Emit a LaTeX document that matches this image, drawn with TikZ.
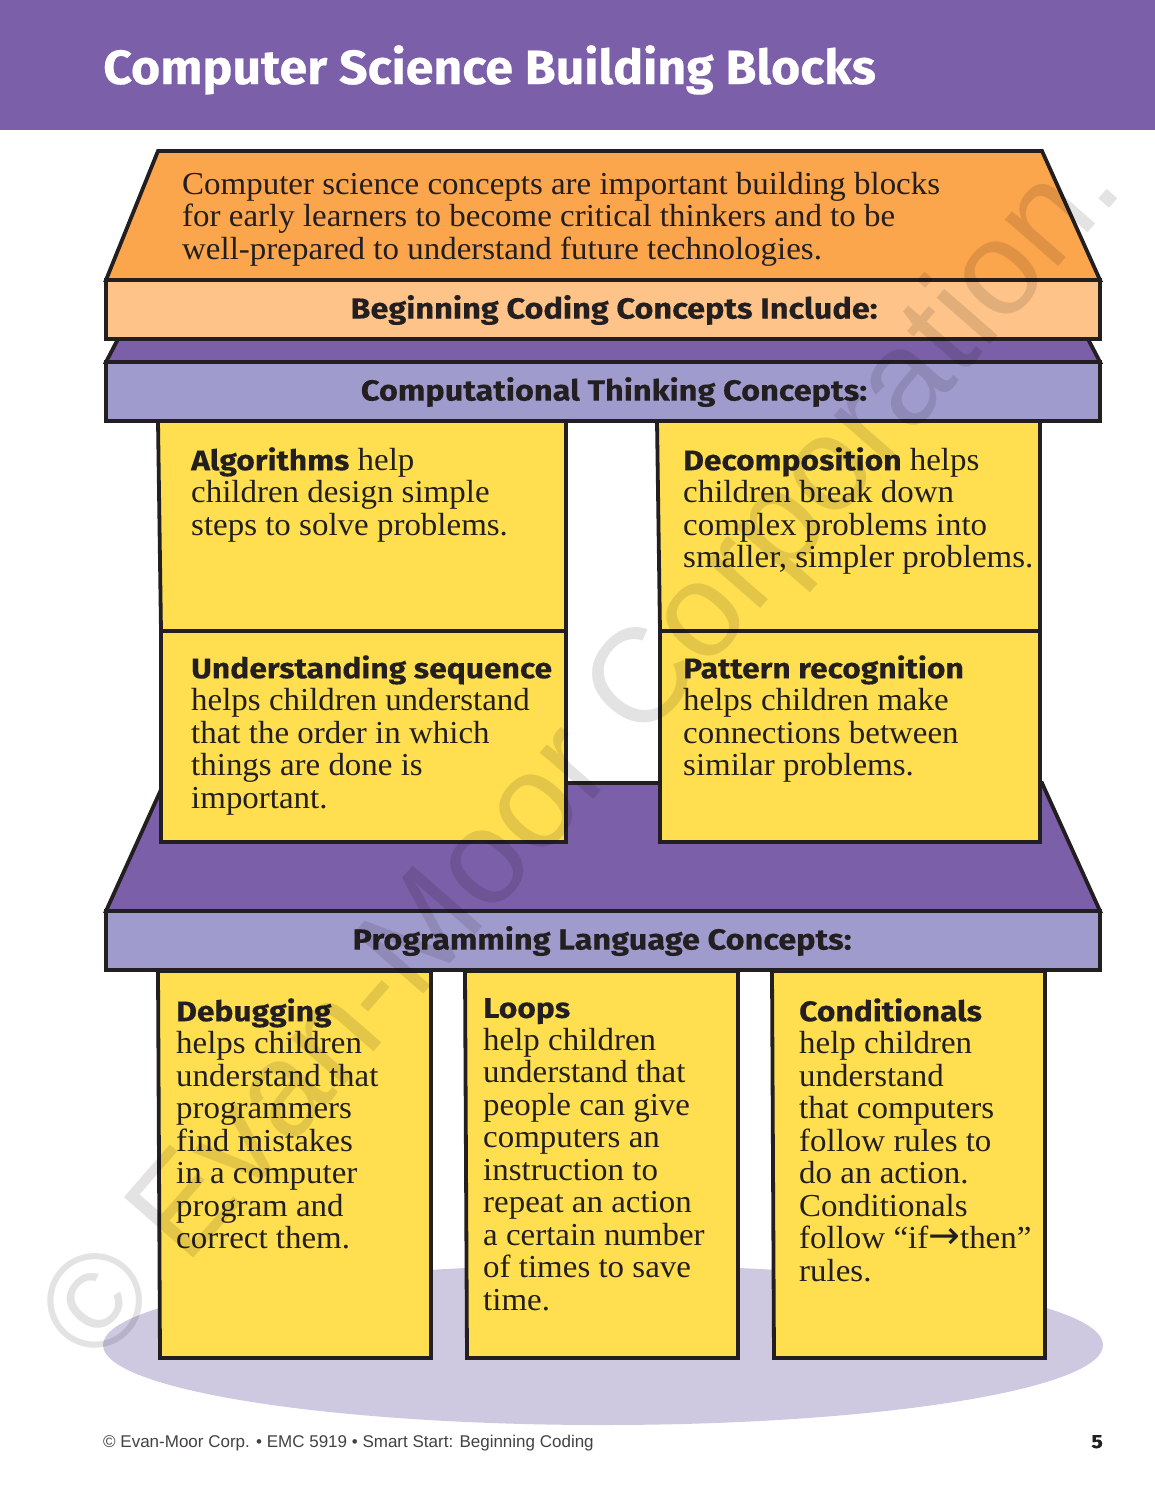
\documentclass[tikz,border=0pt]{standalone}
\usepackage{fontspec}
\setmainfont{Liberation Serif}[FakeStretch=1.03]
\newfontfamily\headf{Fira Sans}[UprightFont=* Bold,FakeStretch=1.12,FakeBold=0.3]
\newfontfamily\titlef{Fira Sans}[UprightFont=* Bold,FakeStretch=1.043,FakeBold=0.4]
\newfontfamily\footf{Liberation Sans}
\newfontfamily\arrf{DejaVu Sans}
\newfontfamily\wmf{Liberation Sans}
\definecolor{purp}{HTML}{7B5FA8}
\definecolor{lav}{HTML}{A09BCD}
\definecolor{org}{HTML}{FBA54D}
\definecolor{peach}{HTML}{FDC388}
\definecolor{yel}{HTML}{FFDF50}
\definecolor{shadow}{HTML}{CFC8E1}
\definecolor{ink}{HTML}{231F20}
\tikzset{
  part/.style={draw=ink,line width=3.8pt,line join=miter},
  body/.style={anchor=north west,inner sep=0pt,align=left,text=ink,font=\fontsize{32}{32.5}\selectfont,execute at begin node=\rule{0pt}{25pt}},
  band/.style={inner sep=0pt,text=ink,font=\headf\fontsize{29}{32}\selectfont},
}
\newcommand{\hd}[1]{{\headf\fontsize{28.4}{32.5}\selectfont #1}}
\begin{document}
\begin{tikzpicture}[x=1pt,y=-1pt]
\useasboundingbox (0,0) rectangle (1155,1500);
\fill[white] (0,0) rectangle (1155,1500);
\fill[purp] (0,0) rectangle (1155,130);
\node[anchor=base west,inner sep=0pt,text=white,font=\titlef\fontsize{48}{50}\selectfont] (title) at (103,84) {Computer Science Building Blocks};
\fill[shadow] (603,1345) ellipse [x radius=500,y radius=80];
% lower platform
\draw[part,fill=purp] (164,783) -- (1042,783) -- (1100,911) -- (106,911) -- cycle;
\draw[part,fill=lav] (106,911) rectangle (1100,970);
\node[band] (plc) at (602,941) {Programming Language Concepts:};
% lower columns
\draw[part,fill=yel] (158,971) -- (431,971) -- (431,1358) -- (160,1358) -- cycle;
\draw[part,fill=yel] (465,971) -- (738,971) -- (738,1358) -- (467,1358) -- cycle;
\draw[part,fill=yel] (772,971) -- (1045,971) -- (1045,1358) -- (774,1358) -- cycle;
% upper columns
\draw[part,fill=yel] (158,421) -- (566,421) -- (566,631) -- (161,631) -- cycle;
\draw[part,fill=yel] (161,631) -- (566,631) -- (566,842) -- (161,842) -- cycle;
\draw[part,fill=yel] (657,421) -- (1040,421) -- (1040,631) -- (660,631) -- cycle;
\draw[part,fill=yel] (660,631) -- (1040,631) -- (1040,842) -- (660,842) -- cycle;
% upper platform
\draw[part,fill=purp] (118,339) -- (1088,339) -- (1100,362) -- (106,362) -- cycle;
\draw[part,fill=lav] (106,362) rectangle (1100,421);
\node[band] (ctc) at (614,392) {Computational Thinking Concepts:};
% roof
\draw[part,fill=org] (158,151) -- (1042,151) -- (1100,280) -- (106,280) -- cycle;
\draw[part,fill=peach] (106,280) rectangle (1100,339);
\node[band] (bcc) at (614,310) {Beginning Coding Concepts Include:};
\node[body] (intro) at (182,172) {Computer science concepts are important building blocks\\for early learners to become critical thinkers and to be\\well-prepared to understand future technologies.};
\node[body] (alg) at (191,447) {\hd{Algorithms} help\\children design simple\\steps to solve problems.};
\node[body] (dec) at (683,447) {\hd{Decomposition} helps\\children break down\\complex problems into\\smaller, simpler problems.};
\node[body] (seq) at (191,655) {\hd{Understanding sequence}\\helps children understand\\that the order in which\\things are done is\\important.};
\node[body] (pat) at (683,655) {\hd{Pattern recognition}\\helps children make\\connections between\\similar problems.};
\node[body] (dbg) at (176,998) {\hd{Debugging}\\helps children\\understand that\\programmers\\find mistakes\\in a computer\\program and\\correct them.};
\node[body] (lop) at (483,998) {\hd{Loops}\\help children\\understand that\\people can give\\computers an\\instruction to\\repeat an action\\a certain number\\of times to save\\time.};
\node[body] (con) at (799,998) {\hd{Conditionals}\\help children\\understand\\that computers\\follow rules to\\do an action.\\Conditionals\\follow “if{\arrf\fontsize{38}{32.5}\selectfont →}then”\\rules.};
% footer
\node[anchor=base west,inner sep=0pt,text=ink!85,font=\footf\fontsize{17}{20}\selectfont] (foot) at (103,1447) {© Evan-Moor Corp. • EMC 5919 • Smart Start: Beginning Coding};
\node[anchor=base east,inner sep=0pt,text=ink,font=\headf\fontsize{19}{20}\selectfont] (pg) at (1103,1448) {5};
% watermark
\node[anchor=base west,inner sep=0pt,rotate=48.9,text=black,opacity=0.11,font=\wmf\fontsize{134}{140}\selectfont] (wm) at (97,1369) {© Evan-Moor Corporation.};
\end{tikzpicture}
\end{document}
